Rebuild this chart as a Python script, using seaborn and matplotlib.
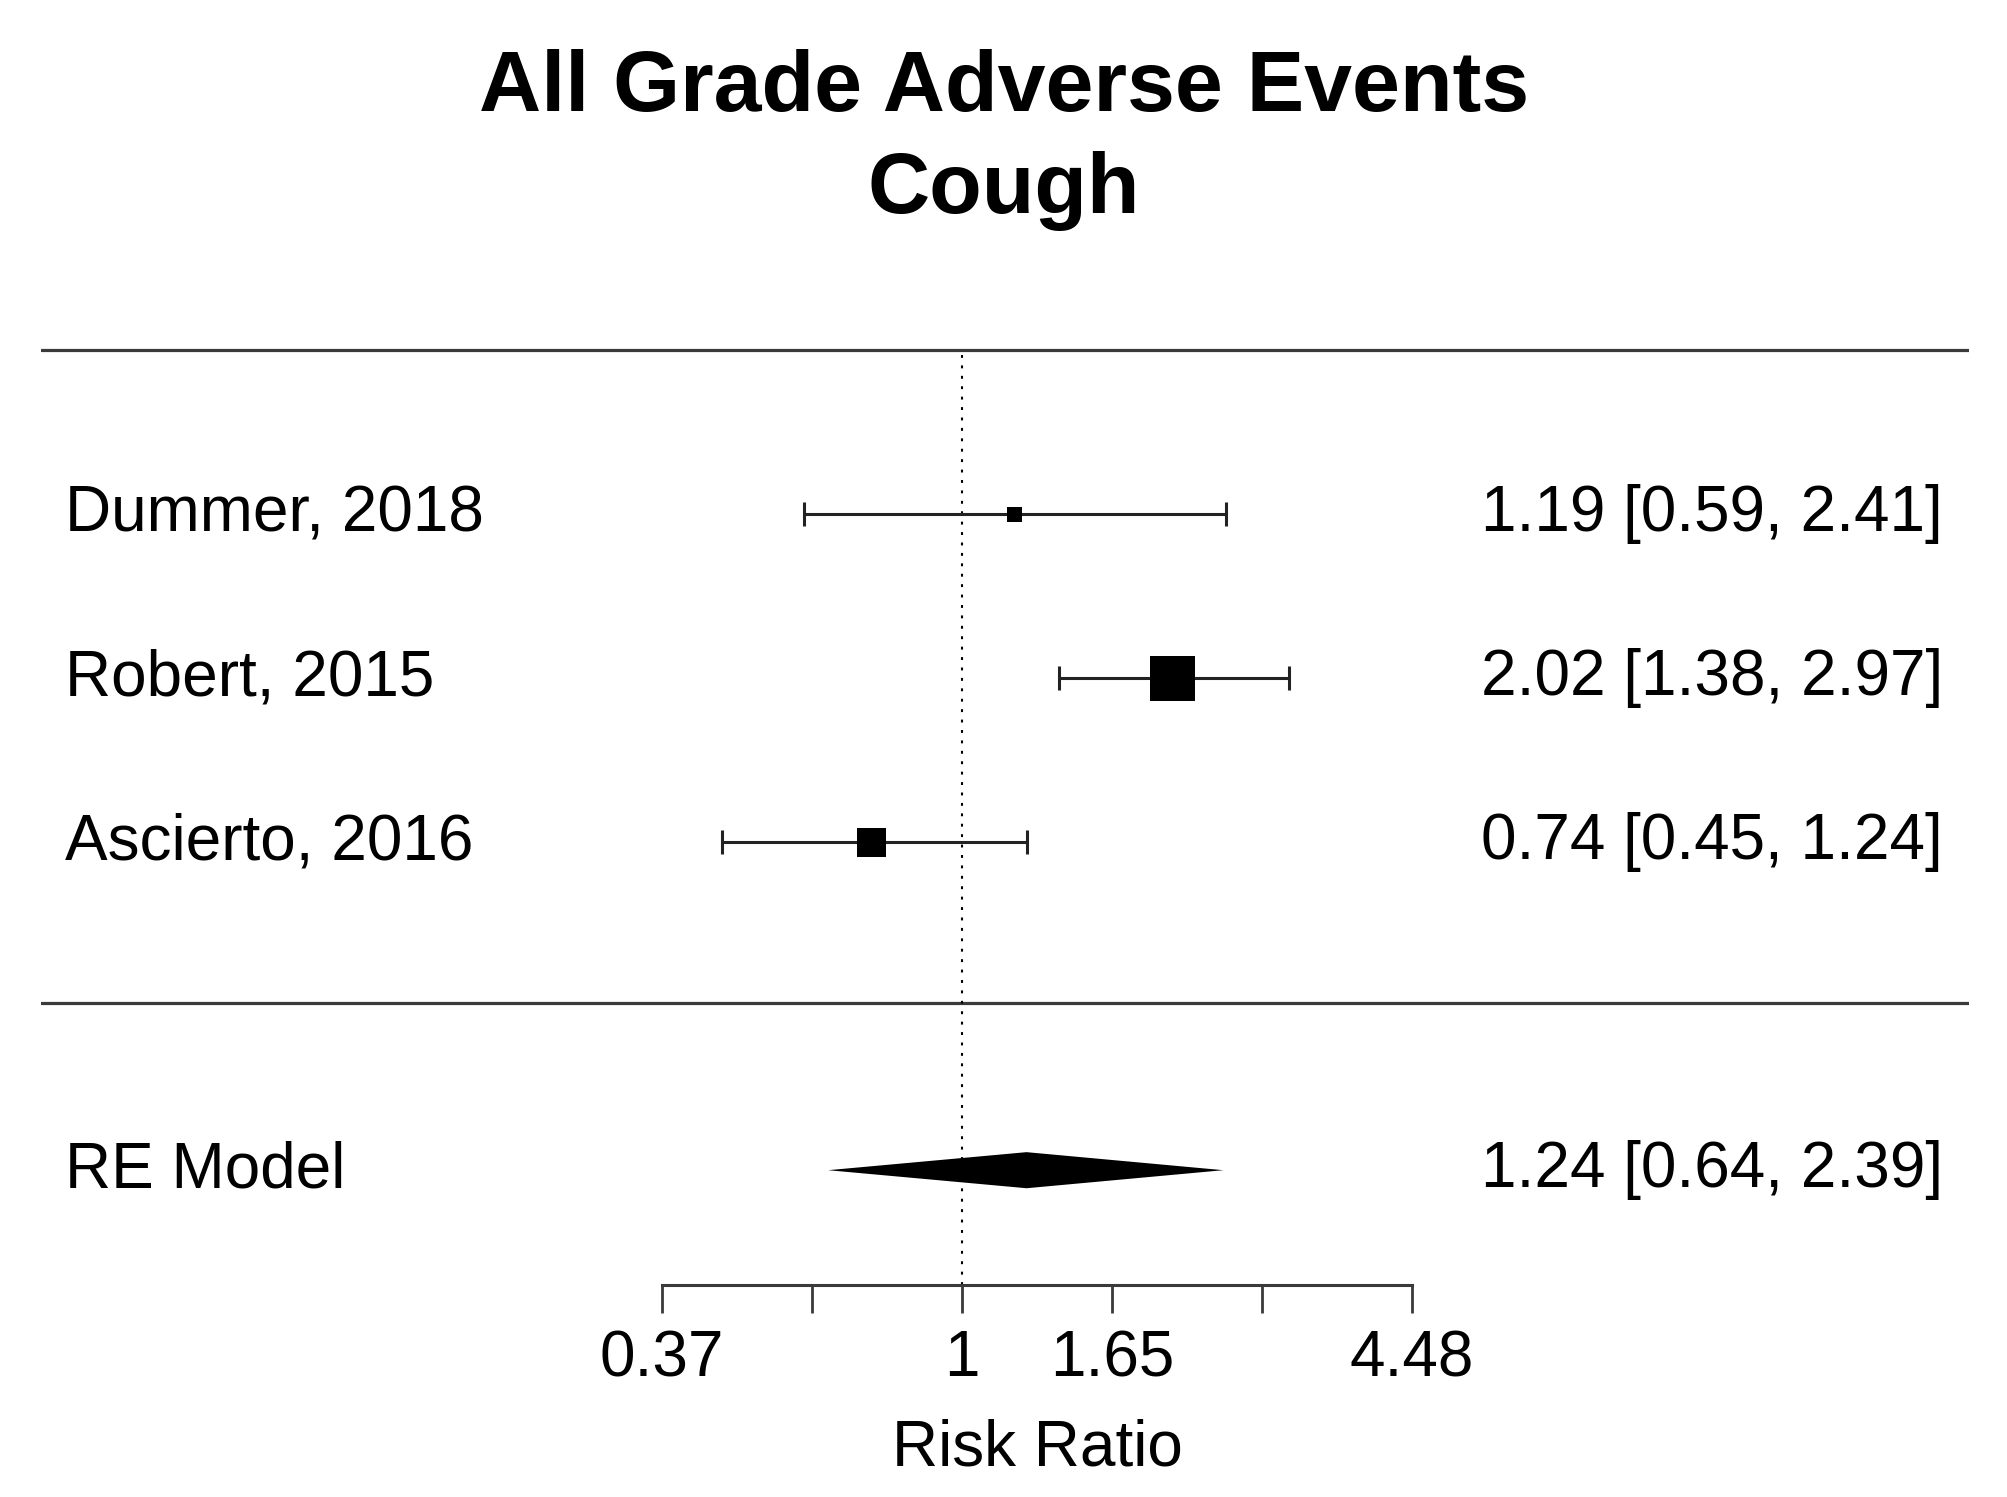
import numpy as np
import pandas as pd
import seaborn as sns
import matplotlib.pyplot as plt
import matplotlib.transforms as mtransforms

# Study-level risk ratios with 95% CI
studies = ["Dummer, 2018", "Robert, 2015", "Ascierto, 2016"]
rr = [1.19, 2.02, 0.74]
ci_low = [0.59, 1.38, 0.45]
ci_high = [2.41, 2.97, 1.24]

# Pooled random-effects estimate
re_label = "RE Model"
re_rr = 1.24
re_low = 0.64
re_high = 2.39

# axis ticks (log scale) and labels as printed
tick_logs = [-1.0, -0.5, 0.0, 0.5, 1.0, 1.5]
tick_labels = ["0.37", "", "1", "1.65", "", "4.48"]

sns.set_style("white")
plt.rcParams["font.family"] = ["Liberation Sans", "DejaVu Sans"]
plt.rcParams["text.color"] = "black"
plt.rcParams["axes.labelcolor"] = "black"
plt.rcParams["xtick.labelcolor"] = "black"

df = pd.DataFrame({"study": studies, "rr": rr, "lo": ci_low, "hi": ci_high})
k = len(df)
df["row"] = np.arange(k, 0, -1)

# box size as in metafor: linear in precision, from 0.5 to 1.5
se = (np.log(df["hi"]) - np.log(df["lo"])) / (2 * 1.96)
prec = 1 / se
psize = 0.5 + (prec - prec.min()) / (prec.max() - prec.min())
side_pt = psize * 30 * 0.72
df["s"] = side_pt ** 2

fig = plt.figure(figsize=(20.08, 14.97), dpi=100)
ax = fig.add_axes([0.02042, 0.14162, 0.96016, 0.65731])
ax.set_xscale("log")
ax.set_xlim(np.exp(-3.07), np.exp(3.3567))
ax.set_ylim(-1.70, k + 1.3)

line_col = "#3a3a3a"
ax.axhline(k + 1, color=line_col, lw=2.3)
ax.axhline(0.02, color=line_col, lw=2.3)
ax.vlines(1, -1.70, k + 1, colors="black", lw=1.5, linestyles=(0, (1.4, 3.6)),
          clip_on=False)

ax.errorbar(df["rr"], df["row"],
            xerr=[df["rr"] - df["lo"], df["hi"] - df["rr"]],
            fmt="none", ecolor="#222222", elinewidth=2.2, capsize=8.6,
            capthick=2.2)
sns.scatterplot(data=df, x="rr", y="row", marker="s", color="black",
                s=df["s"].values, linewidth=0, ax=ax, zorder=3)

h = 0.11
ax.fill([re_low, re_rr, re_high, re_rr], [-1, -1 + h, -1, -1 - h],
        color="black", lw=0)

fs = 46
trans = mtransforms.blended_transform_factory(ax.transAxes, ax.transData)
for _, r in df.iterrows():
    ax.text(0.0127, r["row"], r["study"], transform=trans, ha="left",
            va="center", fontsize=fs)
    ax.text(0.9865, r["row"], f"{r['rr']:.2f} [{r['lo']:.2f}, {r['hi']:.2f}]",
            transform=trans, ha="right", va="center", fontsize=fs)
ax.text(0.0127, -1, re_label, transform=trans, ha="left", va="center",
        fontsize=fs)
ax.text(0.9865, -1, f"{re_rr:.2f} [{re_low:.2f}, {re_high:.2f}]",
        transform=trans, ha="right", va="center", fontsize=fs)

# axes styling
for side in ["top", "right", "left"]:
    ax.spines[side].set_visible(False)
ax.spines["bottom"].set_bounds(np.exp(tick_logs[0]), np.exp(tick_logs[-1]))
ax.spines["bottom"].set_color(line_col)
ax.spines["bottom"].set_linewidth(2.2)
ax.set_xticks(np.exp(tick_logs))
ax.set_xticklabels(tick_labels)
ax.xaxis.set_minor_locator(plt.NullLocator())
ax.tick_params(axis="x", bottom=True, direction="out", length=20, width=2.0,
               color=line_col, pad=12, labelsize=fs, labelcolor="black")
ax.set_yticks([])
ax.set_ylabel("")
ax.set_xlabel("Risk Ratio", fontsize=fs, color="black")
ax.xaxis.set_label_coords(0.5142 * 0.96464 / 0.96016, -0.183)
ax.xaxis.label.set_va("baseline")

fig.text(0.5, 1 - 111 / 1497, "All Grade Adverse Events", ha="center",
         va="baseline", fontsize=62, fontweight="bold", color="black")
fig.text(0.5, 1 - 213 / 1497, "Cough", ha="center", va="baseline",
         fontsize=62, fontweight="bold", color="black")

fig.savefig("out.png", dpi=100, facecolor="white")
